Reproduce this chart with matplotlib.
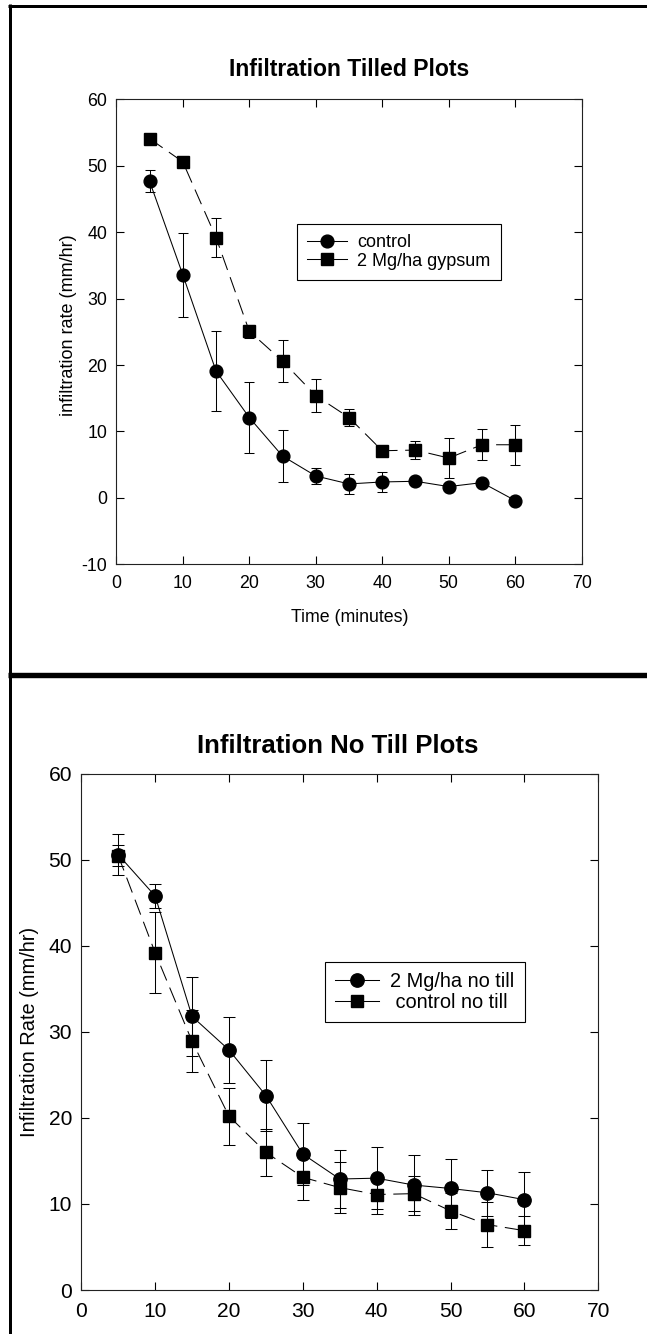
import matplotlib
matplotlib.use('Agg')
import matplotlib.pyplot as plt
from matplotlib.lines import Line2D

plt.rcParams['font.family'] = ['Liberation Sans', 'DejaVu Sans']
plt.rcParams['lines.scale_dashes'] = False
plt.rcParams['axes.unicode_minus'] = False

# ---------------- data ----------------
time = [5, 10, 15, 20, 25, 30, 35, 40, 45, 50, 55, 60]
x_ticks = [0, 10, 20, 30, 40, 50, 60, 70]

tilled_control = [47.7, 33.6, 19.1, 12.1, 6.3, 3.3, 2.1, 2.4, 2.5, 1.7, 2.3, -0.4]
tilled_control_err = [1.7, 6.3, 6.0, 5.3, 3.9, 1.2, 1.5, 1.5, 0.3, 0.3, 0.3, 0.3]
tilled_gypsum = [54.1, 50.6, 39.2, 25.1, 20.6, 15.4, 12.1, 7.1, 7.2, 6.0, 8.0, 8.0]
tilled_gypsum_err = [0.3, 0.3, 3.0, 1.0, 3.2, 2.5, 1.35, 0.3, 1.4, 3.0, 2.3, 3.0]
tilled_yticks = [-10, 0, 10, 20, 30, 40, 50, 60]

notill_gypsum = [50.6, 45.8, 31.8, 27.9, 22.6, 15.8, 12.9, 13.0, 12.2, 11.8, 11.3, 10.5]
notill_gypsum_err = [2.4, 1.4, 4.6, 3.8, 4.1, 3.6, 3.4, 3.6, 3.5, 3.4, 2.7, 3.2]
notill_control = [50.5, 39.2, 28.9, 20.2, 16.0, 13.1, 11.9, 11.1, 11.2, 9.2, 7.6, 6.9]
notill_control_err = [1.2, 4.7, 3.6, 3.3, 2.7, 2.6, 3.0, 2.3, 2.0, 2.1, 2.6, 1.7]
notill_yticks = [0, 10, 20, 30, 40, 50, 60]

# ---------------- layout helpers ----------------
W, H = 647, 1334
fig = plt.figure(figsize=(W / 100, H / 100), dpi=100)
PT = 72 / 100


def fx(px):
    return px / W


def fy(py):
    return 1 - py / H


def make_axes(left, right, top, bottom):
    return fig.add_axes([fx(left), fy(bottom), (right - left) / W, (bottom - top) / H])


def style_axes(ax, ylim, yticks, size, xpad, ypad):
    ax.set_xlim(0, 70)
    ax.set_ylim(*ylim)
    ax.set_xticks(x_ticks)
    ax.set_yticks(yticks)
    ax.tick_params(direction='in', length=8 * PT, width=0.8, top=True, right=True,
                   labelsize=size, colors='k')
    ax.tick_params(axis='x', pad=xpad)
    ax.tick_params(axis='y', pad=ypad)
    for s in ax.spines.values():
        s.set_linewidth(0.8)
        s.set_color('#222222')


DASH = (0, (11.5, 5.5))

# ---------------- top panel ----------------
ax1 = make_axes(116.3, 581.7, 99.4, 564.3)
style_axes(ax1, (-10, 60), tilled_yticks, 12.8, 7.5, 6.5)
ax1.errorbar(time, tilled_control, yerr=tilled_control_err, fmt='none', ecolor='k',
             elinewidth=0.75, capsize=3.8, capthick=0.75, zorder=2)
ax1.errorbar(time, tilled_gypsum, yerr=tilled_gypsum_err, fmt='none', ecolor='k',
             elinewidth=0.75, capsize=3.8, capthick=0.75, zorder=2)
ax1.plot(time, tilled_control, color='k', lw=0.75, marker='o', ms=9.2, zorder=3)
ax1.plot(time, tilled_gypsum, color='k', lw=0.75, linestyle=DASH, marker='s', ms=8.3, zorder=3)

h1 = [Line2D([], [], color='k', lw=0.75, marker='o', ms=9.2),
      Line2D([], [], color='k', lw=0.75, marker='s', ms=8.3)]
leg1 = ax1.legend(h1, ['control', '2 Mg/ha gypsum'], loc='upper left',
                  bbox_to_anchor=(fx(297), fy(224.4)), bbox_transform=fig.transFigure,
                  borderaxespad=0, fontsize=13, frameon=True, fancybox=False,
                  edgecolor='k', framealpha=1, borderpad=0.55, handlelength=2.2,
                  handletextpad=0.6, labelspacing=0.07, numpoints=1)
leg1.get_frame().set_linewidth(0.8)

fig.text(fx(349), fy(76.2), 'Infiltration Tilled Plots', ha='center', va='baseline',
         fontsize=16.6, fontweight='bold')
fig.text(fx(350.2), fy(621.7), 'Time (minutes)', ha='center', va='baseline', fontsize=12.8)
fig.text(fx(68.5), fy(325.5), 'infiltration rate (mm/hr)', ha='center', va='center',
         rotation=90, fontsize=13)

# ---------------- bottom panel ----------------
ax2 = make_axes(81.3, 598.2, 773.8, 1290.0)
style_axes(ax2, (0, 60), notill_yticks, 15.1, 8.4, 6.7)
ax2.errorbar(time, notill_gypsum, yerr=notill_gypsum_err, fmt='none', ecolor='k',
             elinewidth=0.75, capsize=4, capthick=0.75, zorder=2)
ax2.errorbar(time, notill_control, yerr=notill_control_err, fmt='none', ecolor='k',
             elinewidth=0.75, capsize=4, capthick=0.75, zorder=2)
ax2.plot(time, notill_gypsum, color='k', lw=0.75, marker='o', ms=9.6, zorder=3)
ax2.plot(time, notill_control, color='k', lw=0.75, linestyle=DASH, marker='s', ms=8.8, zorder=3)

h2 = [Line2D([], [], color='k', lw=0.75, marker='o', ms=9.6),
      Line2D([], [], color='k', lw=0.75, marker='s', ms=8.8)]
leg2 = ax2.legend(h2, ['2 Mg/ha no till', ' control no till'], loc='upper left',
                  bbox_to_anchor=(fx(324.7), fy(961.7)), bbox_transform=fig.transFigure,
                  borderaxespad=0, fontsize=14.4, frameon=True, fancybox=False,
                  edgecolor='k', framealpha=1, borderpad=0.5, handlelength=2.22,
                  handletextpad=0.57, labelspacing=0.1, numpoints=1)
leg2.get_frame().set_linewidth(0.8)

fig.text(fx(337.3), fy(753.4), 'Infiltration No Till Plots', ha='center', va='baseline',
         fontsize=18.5, fontweight='bold')
fig.text(fx(29.3), fy(1031.5), 'Infiltration Rate (mm/hr)', ha='center', va='center',
         rotation=90, fontsize=14.4)

# ---------------- page frame lines ----------------
fig.add_artist(Line2D([fx(8), 1], [fy(5.5), fy(5.5)], transform=fig.transFigure,
                      color='k', lw=3 * PT, solid_capstyle='butt'))
fig.add_artist(Line2D([fx(9.5), fx(9.5)], [0, fy(4)], transform=fig.transFigure,
                      color='k', lw=3 * PT, solid_capstyle='butt'))
fig.add_artist(Line2D([fx(8), 1], [fy(675), fy(675)], transform=fig.transFigure,
                      color='k', lw=5.4 * PT, solid_capstyle='butt'))

fig.savefig('out.png', dpi=100)
